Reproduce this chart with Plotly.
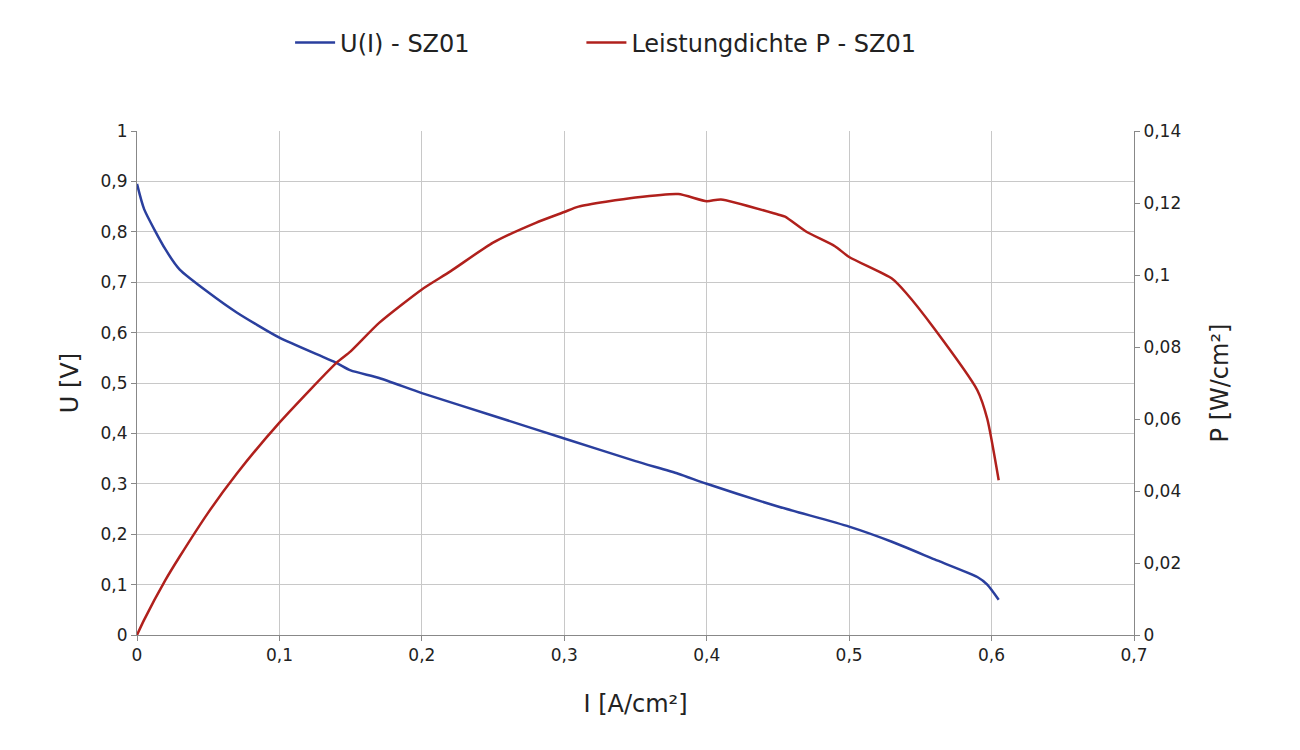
import plotly.graph_objects as go

i_u = [0, 0.005, 0.02, 0.03, 0.05, 0.07, 0.1, 0.14, 0.15, 0.17, 0.2, 0.25, 0.3, 0.35, 0.38, 0.4, 0.45, 0.5, 0.53, 0.56, 0.59, 0.597, 0.605]
u = [0.895, 0.845, 0.765, 0.725, 0.68, 0.64, 0.59, 0.54, 0.525, 0.51, 0.48, 0.435, 0.39, 0.345, 0.32, 0.30, 0.255, 0.215, 0.185, 0.15, 0.115, 0.10, 0.07]

i_p = [0, 0.005, 0.02, 0.03, 0.05, 0.07, 0.1, 0.14, 0.15, 0.17, 0.2, 0.22, 0.25, 0.28, 0.3, 0.31, 0.35, 0.38, 0.4, 0.41, 0.45, 0.455, 0.47, 0.49, 0.5, 0.53, 0.54, 0.56, 0.59, 0.597, 0.605]
p = [0, 0.0042, 0.0153, 0.0218, 0.034, 0.0448, 0.059, 0.0756, 0.0788, 0.0867, 0.096, 0.101, 0.109, 0.1145, 0.1175, 0.119, 0.1215, 0.1225, 0.1205, 0.121, 0.1168, 0.1162, 0.112, 0.108, 0.105, 0.099, 0.095, 0.085, 0.068, 0.060, 0.043]

font = dict(family="DejaVu Sans", size=17, color="#222")
fig = go.Figure()
fig.add_trace(go.Scatter(x=i_u, y=u, mode="lines", name="U(I) - SZ01" + "\u00a0" * 14, line=dict(color="#2a3f9e", width=2.5, shape="spline", smoothing=0.6)))
fig.add_trace(go.Scatter(x=i_p, y=p, mode="lines", name="Leistungdichte P - SZ01", yaxis="y2", line=dict(color="#b0201c", width=2.5, shape="spline", smoothing=0.6)))
fig.update_layout(
    width=1300, height=750, plot_bgcolor="white", paper_bgcolor="white", font=font,
    margin=dict(l=129, r=174, t=71, b=123),
    legend=dict(orientation="h", x=0.47, xanchor="center", y=1.13, yanchor="bottom", font=dict(size=24), itemwidth=40),
    xaxis=dict(range=[0, 0.7], dtick=0.1, showgrid=True, gridcolor="#c8c8c8", linecolor="#888", ticks="outside", ticklen=5, tickcolor="#888",
               title=dict(text="I [A/cm²]", font=dict(size=24), standoff=30), zeroline=False),
    yaxis=dict(range=[0, 1], dtick=0.1, showgrid=True, gridcolor="#c8c8c8", linecolor="#888", showline=True, ticks="outside", ticklen=5, tickcolor="#888",
               title=dict(text="U [V]", font=dict(size=24)), zeroline=False),
    yaxis2=dict(range=[0, 0.14], dtick=0.02, overlaying="y", side="right", showgrid=False, showline=True, linecolor="#888", ticks="outside", ticklen=5, tickcolor="#888",
                title=dict(text="P [W/cm²]", font=dict(size=24), standoff=30), zeroline=False),
    separators=", ",
)
fig.update_xaxes(showline=True)
fig.write_html("out.html")
